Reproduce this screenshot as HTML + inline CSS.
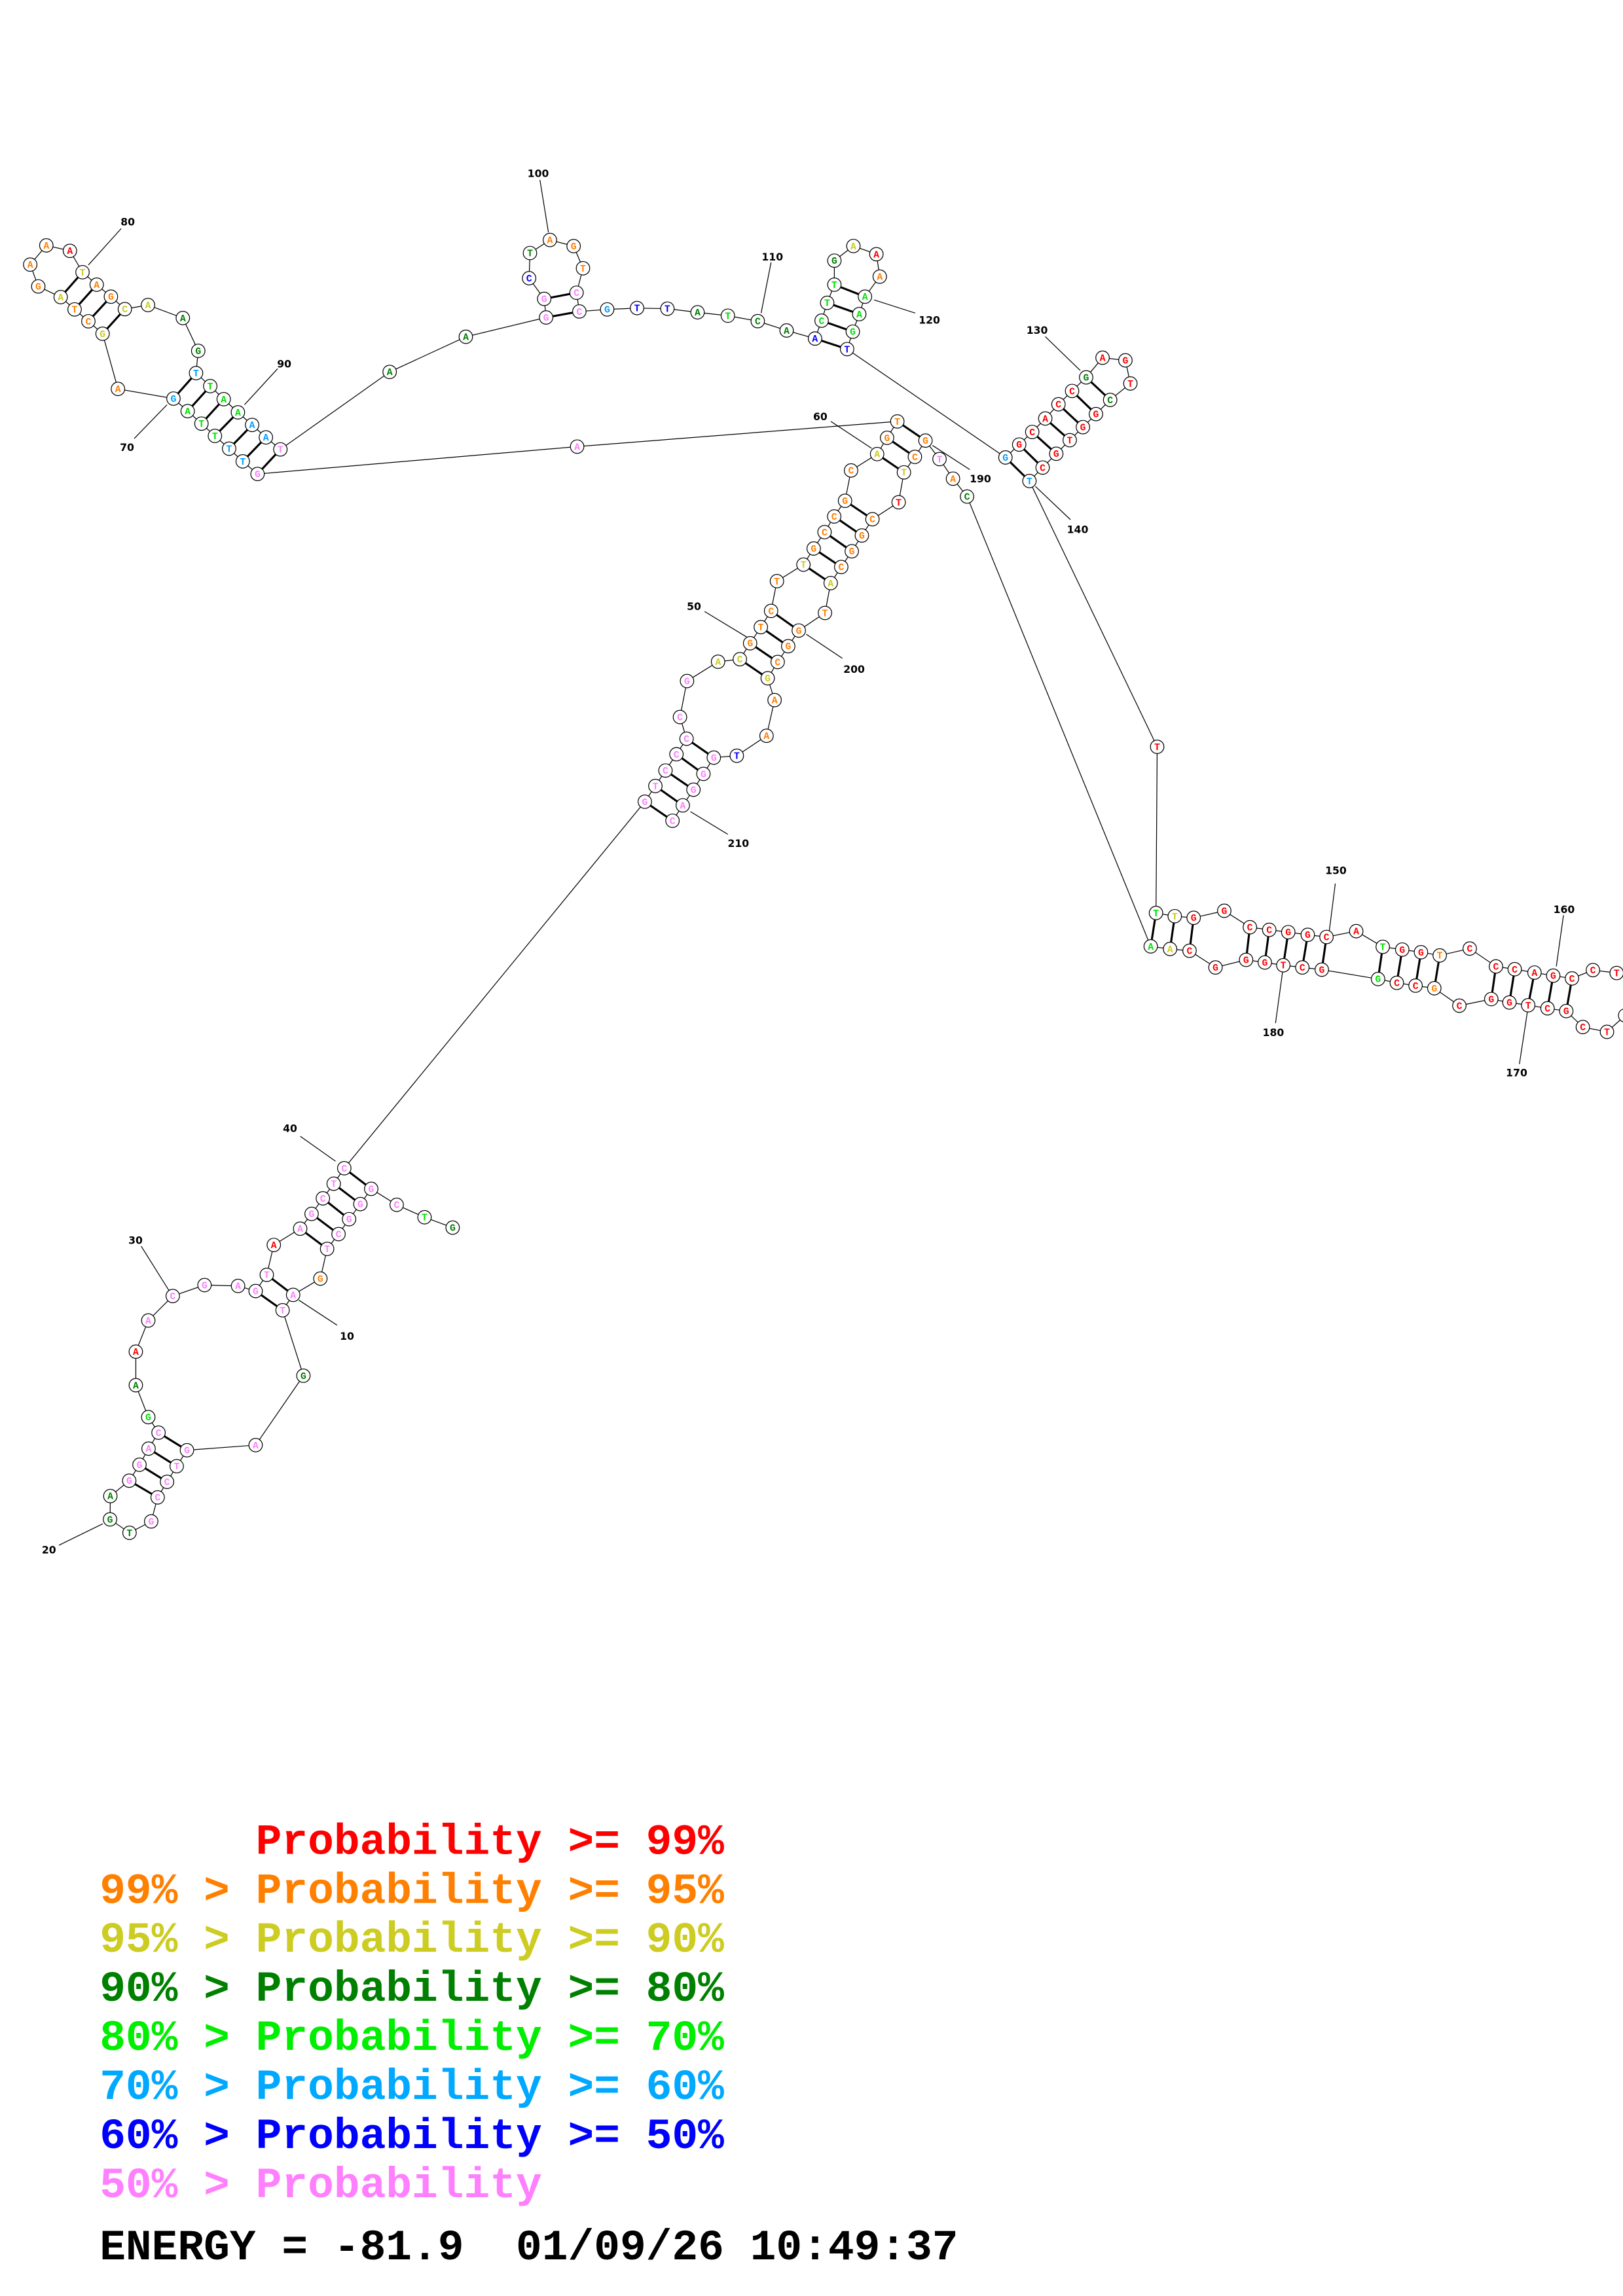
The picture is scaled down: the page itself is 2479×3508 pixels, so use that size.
<!DOCTYPE html>
<html><head><meta charset="utf-8">
<style>
html,body{margin:0;padding:0;background:#fff;}
svg{display:block;}
circle{fill:#fff;stroke:#000;stroke-width:.55;}
.bb{fill:none;stroke:#000;stroke-width:.55;}
.pr{stroke:#000;stroke-width:1.4;}
.ln{stroke:#000;stroke-width:.55;}
text.n{font-family:"Liberation Mono",monospace;font-weight:bold;font-size:6.6px;text-anchor:middle;}
text.lb{font-family:"DejaVu Sans","Liberation Sans",sans-serif;font-weight:bold;font-size:7px;text-anchor:middle;fill:#000;}
text.lg{font-family:"Liberation Mono",monospace;font-weight:bold;font-size:29.6px;white-space:pre;}
.R{fill:#ff0000}.O{fill:#ff8000}.Y{fill:#cccc22}.D{fill:#008000}.L{fill:#00e000}.C{fill:#00a0ff}.B{fill:#0000ff}.P{fill:#ff80ff}
</style></head>
<body>
<svg width="2479" height="3508" viewBox="0 0 1108 1568" xmlns="http://www.w3.org/2000/svg">
<rect width="1108" height="1568" fill="#fff"/>
<polyline class="bb" points="309,838.4 289.8,831.3 270.8,822.8 253.4,811.9 246.0,822.3 238.3,832.6 231.1,842.8 223.3,852.9 218.7,873.2 200.1,884.3 192.9,894.8 207.1,939.5 174.5,986.9 127.6,990.4 120.6,1001.3 114.0,1012.0 107.6,1022.6 103.2,1039.0 88.4,1046.8 75.1,1037.6 75.3,1021.7 88.2,1011.2 95.2,1000.3 101.4,989.3 108.2,978.4 101.2,967.8 92.7,946.0 92.7,923.1 101.2,901.8 117.9,885.1 139.6,877.6 162.5,878.2 174.5,881.7 182.1,870.6 186.9,850.2 204.9,839.1 212.7,829.0 220.4,818.4 227.8,808.4 235.0,797.8 440.2,547.5 447.4,536.8 454.3,526.2 461.8,515.1 468.7,504.5 464.2,489.7 469.0,465.1 490.2,451.9 505.1,450.2 512.1,439.3 519.4,428.3 526.4,417.2 530.4,396.9 548.5,385.6 555.5,374.6 562.9,363.4 569.5,352.7 576.9,342.0 581.0,321.3 598.8,310.1 605.6,299.0 612.6,287.8 394,305 175.8,323.7 165.7,315.1 156.4,306.4 146.7,297.7 137.5,289.3 128.1,280.8 118.4,272.2 80.5,265.6 70.0,227.9 60.3,219.4 50.9,211.3 41.4,202.9 26.1,195.6 20.6,180.7 31.6,167.6 47.7,171.3 56.3,185.9 66.0,194.4 75.7,202.6 85.2,211.1 101.0,208.3 124.8,217.2 135.3,239.6 133.8,254.8 143.5,263.7 152.7,272.6 162.4,281.6 172.1,290.2 181.5,298.7 191.4,306.9 266,254 318,230 372.8,216.8 371.5,204.1 361.2,190.0 361.8,172.8 375.4,163.9 391.6,168.1 398.0,183.2 393.6,199.9 395.5,212.7 414.5,211.3 434.9,210.4 455.6,210.8 476.2,213.3 496.9,215.6 517.3,219.3 537.0,225.7 556.4,231.2 560.9,219.0 564.7,206.8 569.6,194.4 569.6,178.0 582.6,168.0 598.3,173.6 600.6,188.9 590.5,202.6 586.6,214.5 582.2,226.5 578.3,238.4 686.4,312.4 695.8,303.6 704.7,295.0 713.6,285.8 722.6,276.1 731.9,267.0 741.5,257.7 752.7,244.3 768.3,246.1 771.7,261.9 757.9,273.1 748.2,282.8 739.3,291.7 730.3,300.6 721.1,309.9 711.8,319.3 702.8,328.5 790,510 789.2,623.5 802.0,625.7 814.9,626.8 835.8,622.0 853.3,633.2 866.5,635.0 879.5,636.6 892.8,638.4 905.6,639.9 925.9,635.9 944.0,646.6 957.3,648.5 970.1,650.3 982.9,652.5 1003.4,647.8 1021.3,660.0 1034.1,661.9 1047.6,664.2 1060.4,666.3 1073.2,668.2 1087.5,662.5 1103.7,664.5 1118,672 1116,688 1109.5,693.5 1097.1,704.7 1080.6,701.4 1069.3,690.5 1056.5,688.6 1043.3,686.5 1030.5,684.6 1018.1,682.3 996.3,686.8 979.2,674.9 966.4,673.1 953.6,671.2 940.8,668.6 902.4,662.2 889.1,660.7 876.1,659.2 863.5,657.3 850.7,655.5 829.8,660.7 812.1,649.3 798.8,648.1 785.6,646.3 660.2,339.1 650.6,326.9 641.4,313.5 631.8,300.9 624.6,312.0 617.1,322.6 613.5,343.0 595.6,354.6 588.4,365.7 581.5,376.5 574.3,387.2 567.1,398.2 563.2,418.6 545.3,430.6 538.1,441.3 530.9,452.1 524.1,463.2 528.8,478.1 523.3,502.5 503.0,516.1 487.3,517.4 480.2,528.5 473.4,539.3 466.1,550.0 459.1,560.5"/>
<g class="pr">
<line x1="235" y1="797.8" x2="253.4" y2="811.9"/><line x1="227.8" y1="808.4" x2="246" y2="822.3"/><line x1="220.4" y1="818.4" x2="238.3" y2="832.6"/><line x1="212.7" y1="829" x2="231.1" y2="842.8"/><line x1="204.9" y1="839.1" x2="223.3" y2="852.9"/>
<line x1="182.1" y1="870.6" x2="200.1" y2="884.3"/><line x1="174.5" y1="881.7" x2="192.9" y2="894.8"/>
<line x1="108.2" y1="978.4" x2="127.6" y2="990.4"/><line x1="101.4" y1="989.3" x2="120.6" y2="1001.3"/><line x1="95.2" y1="1000.3" x2="114" y2="1012"/><line x1="88.2" y1="1011.2" x2="107.6" y2="1022.6"/>
<line x1="612.6" y1="287.8" x2="631.8" y2="300.9"/><line x1="605.6" y1="299" x2="624.6" y2="312"/><line x1="598.8" y1="310.1" x2="617.1" y2="322.6"/>
<line x1="576.9" y1="342" x2="595.6" y2="354.6"/><line x1="569.5" y1="352.7" x2="588.4" y2="365.7"/><line x1="562.9" y1="363.4" x2="581.5" y2="376.5"/><line x1="555.5" y1="374.6" x2="574.3" y2="387.2"/><line x1="548.5" y1="385.6" x2="567.1" y2="398.2"/>
<line x1="526.4" y1="417.2" x2="545.3" y2="430.6"/><line x1="519.4" y1="428.3" x2="538.1" y2="441.3"/><line x1="512.1" y1="439.3" x2="530.9" y2="452.1"/><line x1="505.1" y1="450.2" x2="524.1" y2="463.2"/>
<line x1="468.7" y1="504.5" x2="487.3" y2="517.4"/><line x1="461.8" y1="515.1" x2="480.2" y2="528.5"/><line x1="454.3" y1="526.2" x2="473.4" y2="539.3"/><line x1="447.4" y1="536.8" x2="466.1" y2="550"/><line x1="440.2" y1="547.5" x2="459.1" y2="560.5"/>
<line x1="118.4" y1="272.2" x2="133.8" y2="254.8"/><line x1="128.1" y1="280.8" x2="143.5" y2="263.7"/><line x1="137.5" y1="289.3" x2="152.7" y2="272.6"/><line x1="146.7" y1="297.7" x2="162.4" y2="281.6"/><line x1="156.4" y1="306.4" x2="172.1" y2="290.2"/><line x1="165.7" y1="315.1" x2="181.5" y2="298.7"/><line x1="175.8" y1="323.7" x2="191.4" y2="306.9"/>
<line x1="56.3" y1="185.9" x2="41.4" y2="202.9"/><line x1="66" y1="194.4" x2="50.9" y2="211.3"/><line x1="75.7" y1="202.6" x2="60.3" y2="219.4"/><line x1="85.2" y1="211.1" x2="70" y2="227.9"/>
<line x1="372.8" y1="216.8" x2="395.5" y2="212.7"/><line x1="371.5" y1="204.1" x2="393.6" y2="199.9"/>
<line x1="556.4" y1="231.2" x2="578.3" y2="238.4"/><line x1="560.9" y1="219" x2="582.2" y2="226.5"/><line x1="564.7" y1="206.8" x2="586.6" y2="214.5"/><line x1="569.6" y1="194.4" x2="590.5" y2="202.6"/>
<line x1="686.4" y1="312.4" x2="702.8" y2="328.5"/><line x1="695.8" y1="303.6" x2="711.8" y2="319.3"/><line x1="704.7" y1="295" x2="721.1" y2="309.9"/><line x1="713.6" y1="285.8" x2="730.3" y2="300.6"/><line x1="722.6" y1="276.1" x2="739.3" y2="291.7"/><line x1="731.9" y1="267" x2="748.2" y2="282.8"/><line x1="741.5" y1="257.7" x2="757.9" y2="273.1"/>
<line x1="789.2" y1="623.5" x2="785.6" y2="646.3"/><line x1="802" y1="625.7" x2="798.8" y2="648.1"/><line x1="814.9" y1="626.8" x2="812.1" y2="649.3"/>
<line x1="853.3" y1="633.2" x2="850.7" y2="655.5"/><line x1="866.5" y1="635" x2="863.5" y2="657.3"/><line x1="879.5" y1="636.6" x2="876.1" y2="659.2"/><line x1="892.8" y1="638.4" x2="889.1" y2="660.7"/><line x1="905.6" y1="639.9" x2="902.4" y2="662.2"/>
<line x1="944" y1="646.6" x2="940.8" y2="668.6"/><line x1="957.3" y1="648.5" x2="953.6" y2="671.2"/><line x1="970.1" y1="650.3" x2="966.4" y2="673.1"/><line x1="982.9" y1="652.5" x2="979.2" y2="674.9"/>
<line x1="1021.3" y1="660" x2="1018.1" y2="682.3"/><line x1="1034.1" y1="661.9" x2="1030.5" y2="684.6"/><line x1="1047.6" y1="664.2" x2="1043.3" y2="686.5"/><line x1="1060.4" y1="666.3" x2="1056.5" y2="688.6"/><line x1="1073.2" y1="668.2" x2="1069.3" y2="690.5"/>
</g>
<g class="ln">
<line x1="205" y1="776" x2="229" y2="793"/><line x1="96.4" y1="851.1" x2="115.8" y2="882.1"/><line x1="204" y1="887.9" x2="230.1" y2="905"/><line x1="40.2" y1="1055.3" x2="70.2" y2="1040.6"/>
<line x1="567.2" y1="287.8" x2="595.1" y2="306.2"/><line x1="636.6" y1="304.2" x2="662.1" y2="320.7"/><line x1="481" y1="417.6" x2="509.7" y2="435"/><line x1="550.4" y1="433.1" x2="575.1" y2="449.6"/><line x1="471.4" y1="554.3" x2="496.9" y2="569.8"/>
<line x1="82.7" y1="156.1" x2="60.3" y2="181"/><line x1="189.5" y1="251.8" x2="166.9" y2="276.4"/><line x1="91.6" y1="299.5" x2="114" y2="276.4"/>
<line x1="368.6" y1="122.9" x2="374.4" y2="158.7"/><line x1="526.4" y1="179.2" x2="519.6" y2="213.8"/><line x1="624.8" y1="213.8" x2="596.7" y2="204.8"/>
<line x1="713.6" y1="229.9" x2="737.5" y2="253"/><line x1="730.8" y1="354.9" x2="706.9" y2="332.2"/>
<line x1="870.8" y1="698.7" x2="875.7" y2="663"/><line x1="1037.3" y1="726.7" x2="1042.7" y2="691.3"/><line x1="1067.4" y1="625" x2="1062.5" y2="660"/><line x1="907.3" y1="637.4" x2="911.6" y2="603.4"/>
</g>
<g>
<text class="lb" x="198" y="773">40</text><text class="lb" x="92.5" y="849.5">30</text><text class="lb" x="236.9" y="915">10</text><text class="lb" x="33.4" y="1061">20</text>
<text class="lb" x="560" y="287">60</text><text class="lb" x="669.3" y="329.5">190</text><text class="lb" x="473.8" y="416.5">50</text><text class="lb" x="583.1" y="459.5">200</text><text class="lb" x="504.1" y="578.5">210</text>
<text class="lb" x="87.2" y="154">80</text><text class="lb" x="194" y="251">90</text><text class="lb" x="86.7" y="308">70</text>
<text class="lb" x="367.4" y="121">100</text><text class="lb" x="527.3" y="178">110</text><text class="lb" x="634.5" y="221">120</text>
<text class="lb" x="708" y="228">130</text><text class="lb" x="735.7" y="364">140</text>
<text class="lb" x="912" y="597">150</text><text class="lb" x="1067.8" y="623.5">160</text><text class="lb" x="1035.4" y="735">170</text><text class="lb" x="869.3" y="707.5">180</text>
</g>
<g id="nodes">
<!-- bottom structure -->
<circle cx="309" cy="838.4" r="4.6"/><text class="n D" x="309" y="840.6">G</text>
<circle cx="289.8" cy="831.3" r="4.6"/><text class="n L" x="289.8" y="833.5">T</text>
<circle cx="270.8" cy="822.8" r="4.6"/><text class="n P" x="270.8" y="825">C</text>
<circle cx="253.4" cy="811.9" r="4.6"/><text class="n P" x="253.4" y="814.1">G</text>
<circle cx="246" cy="822.3" r="4.6"/><text class="n P" x="246" y="824.5">G</text>
<circle cx="238.3" cy="832.6" r="4.6"/><text class="n P" x="238.3" y="834.8">G</text>
<circle cx="231.1" cy="842.8" r="4.6"/><text class="n P" x="231.1" y="845">C</text>
<circle cx="223.3" cy="852.9" r="4.6"/><text class="n P" x="223.3" y="855.1">T</text>
<circle cx="218.7" cy="873.2" r="4.6"/><text class="n O" x="218.7" y="875.4">G</text>
<circle cx="200.1" cy="884.3" r="4.6"/><text class="n P" x="200.1" y="886.5">A</text>
<circle cx="192.9" cy="894.8" r="4.6"/><text class="n P" x="192.9" y="897">T</text>
<circle cx="207.1" cy="939.5" r="4.6"/><text class="n D" x="207.1" y="941.7">G</text>
<circle cx="174.5" cy="986.9" r="4.6"/><text class="n P" x="174.5" y="989.1">A</text>
<circle cx="127.6" cy="990.4" r="4.6"/><text class="n P" x="127.6" y="992.6">G</text>
<circle cx="120.6" cy="1001.3" r="4.6"/><text class="n P" x="120.6" y="1003.5">T</text>
<circle cx="114" cy="1012" r="4.6"/><text class="n P" x="114" y="1014.2">C</text>
<circle cx="107.6" cy="1022.6" r="4.6"/><text class="n P" x="107.6" y="1024.8">C</text>
<circle cx="103.2" cy="1039" r="4.6"/><text class="n P" x="103.2" y="1041.2">G</text>
<circle cx="88.4" cy="1046.8" r="4.6"/><text class="n D" x="88.4" y="1049">T</text>
<circle cx="75.1" cy="1037.6" r="4.6"/><text class="n D" x="75.1" y="1039.8">G</text>
<circle cx="75.3" cy="1021.7" r="4.6"/><text class="n D" x="75.3" y="1023.9">A</text>
<circle cx="88.2" cy="1011.2" r="4.6"/><text class="n P" x="88.2" y="1013.4">G</text>
<circle cx="95.2" cy="1000.3" r="4.6"/><text class="n P" x="95.2" y="1002.5">G</text>
<circle cx="101.4" cy="989.3" r="4.6"/><text class="n P" x="101.4" y="991.5">A</text>
<circle cx="108.2" cy="978.4" r="4.6"/><text class="n P" x="108.2" y="980.6">C</text>
<circle cx="101.2" cy="967.8" r="4.6"/><text class="n L" x="101.2" y="970">G</text>
<circle cx="92.7" cy="946" r="4.6"/><text class="n D" x="92.7" y="948.2">A</text>
<circle cx="92.7" cy="923.1" r="4.6"/><text class="n R" x="92.7" y="925.3">A</text>
<circle cx="101.2" cy="901.8" r="4.6"/><text class="n P" x="101.2" y="904">A</text>
<circle cx="117.9" cy="885.1" r="4.6"/><text class="n P" x="117.9" y="887.3">C</text>
<circle cx="139.6" cy="877.6" r="4.6"/><text class="n P" x="139.6" y="879.8">G</text>
<circle cx="162.5" cy="878.2" r="4.6"/><text class="n P" x="162.5" y="880.4">A</text>
<circle cx="174.5" cy="881.7" r="4.6"/><text class="n P" x="174.5" y="883.9">G</text>
<circle cx="182.1" cy="870.6" r="4.6"/><text class="n P" x="182.1" y="872.8">T</text>
<circle cx="186.9" cy="850.2" r="4.6"/><text class="n R" x="186.9" y="852.4">A</text>
<circle cx="204.9" cy="839.1" r="4.6"/><text class="n P" x="204.9" y="841.3">A</text>
<circle cx="212.7" cy="829" r="4.6"/><text class="n P" x="212.7" y="831.2">G</text>
<circle cx="220.4" cy="818.4" r="4.6"/><text class="n P" x="220.4" y="820.6">C</text>
<circle cx="227.8" cy="808.4" r="4.6"/><text class="n P" x="227.8" y="810.6">T</text>
<circle cx="235" cy="797.8" r="4.6"/><text class="n P" x="235" y="800">C</text>
<!-- main stem left -->
<circle cx="440.2" cy="547.5" r="4.6"/><text class="n P" x="440.2" y="549.7">G</text>
<circle cx="447.4" cy="536.8" r="4.6"/><text class="n P" x="447.4" y="539">T</text>
<circle cx="454.3" cy="526.2" r="4.6"/><text class="n P" x="454.3" y="528.4">C</text>
<circle cx="461.8" cy="515.1" r="4.6"/><text class="n P" x="461.8" y="517.3">C</text>
<circle cx="468.7" cy="504.5" r="4.6"/><text class="n P" x="468.7" y="506.7">C</text>
<circle cx="464.2" cy="489.7" r="4.6"/><text class="n P" x="464.2" y="491.9">C</text>
<circle cx="469" cy="465.1" r="4.6"/><text class="n P" x="469" y="467.3">G</text>
<circle cx="490.2" cy="451.9" r="4.6"/><text class="n Y" x="490.2" y="454.1">A</text>
<circle cx="505.1" cy="450.2" r="4.6"/><text class="n Y" x="505.1" y="452.4">C</text>
<circle cx="512.1" cy="439.3" r="4.6"/><text class="n O" x="512.1" y="441.5">G</text>
<circle cx="519.4" cy="428.3" r="4.6"/><text class="n O" x="519.4" y="430.5">T</text>
<circle cx="526.4" cy="417.2" r="4.6"/><text class="n O" x="526.4" y="419.4">C</text>
<circle cx="530.4" cy="396.9" r="4.6"/><text class="n O" x="530.4" y="399.1">T</text>
<circle cx="548.5" cy="385.6" r="4.6"/><text class="n Y" x="548.5" y="387.8">T</text>
<circle cx="555.5" cy="374.6" r="4.6"/><text class="n O" x="555.5" y="376.8">G</text>
<circle cx="562.9" cy="363.4" r="4.6"/><text class="n O" x="562.9" y="365.6">C</text>
<circle cx="569.5" cy="352.7" r="4.6"/><text class="n O" x="569.5" y="354.9">C</text>
<circle cx="576.9" cy="342" r="4.6"/><text class="n O" x="576.9" y="344.2">G</text>
<circle cx="581" cy="321.3" r="4.6"/><text class="n O" x="581" y="323.5">C</text>
<circle cx="598.8" cy="310.1" r="4.6"/><text class="n Y" x="598.8" y="312.3">A</text>
<circle cx="605.6" cy="299" r="4.6"/><text class="n O" x="605.6" y="301.2">G</text>
<circle cx="612.6" cy="287.8" r="4.6"/><text class="n O" x="612.6" y="290">T</text>
<circle cx="394" cy="305" r="4.6"/><text class="n P" x="394" y="307.2">A</text>
<!-- top-left -->
<circle cx="175.8" cy="323.7" r="4.6"/><text class="n P" x="175.8" y="325.9">G</text>
<circle cx="165.7" cy="315.1" r="4.6"/><text class="n C" x="165.7" y="317.3">T</text>
<circle cx="156.4" cy="306.4" r="4.6"/><text class="n C" x="156.4" y="308.6">T</text>
<circle cx="146.7" cy="297.7" r="4.6"/><text class="n L" x="146.7" y="299.9">T</text>
<circle cx="137.5" cy="289.3" r="4.6"/><text class="n L" x="137.5" y="291.5">T</text>
<circle cx="128.1" cy="280.8" r="4.6"/><text class="n L" x="128.1" y="283">A</text>
<circle cx="118.4" cy="272.2" r="4.6"/><text class="n C" x="118.4" y="274.4">G</text>
<circle cx="80.5" cy="265.6" r="4.6"/><text class="n O" x="80.5" y="267.8">A</text>
<circle cx="70" cy="227.9" r="4.6"/><text class="n Y" x="70" y="230.1">G</text>
<circle cx="60.3" cy="219.4" r="4.6"/><text class="n O" x="60.3" y="221.6">C</text>
<circle cx="50.9" cy="211.3" r="4.6"/><text class="n O" x="50.9" y="213.5">T</text>
<circle cx="41.4" cy="202.9" r="4.6"/><text class="n Y" x="41.4" y="205.1">A</text>
<circle cx="26.1" cy="195.6" r="4.6"/><text class="n O" x="26.1" y="197.8">G</text>
<circle cx="20.6" cy="180.7" r="4.6"/><text class="n O" x="20.6" y="182.9">A</text>
<circle cx="31.6" cy="167.6" r="4.6"/><text class="n O" x="31.6" y="169.8">A</text>
<circle cx="47.7" cy="171.3" r="4.6"/><text class="n R" x="47.7" y="173.5">A</text>
<circle cx="56.3" cy="185.9" r="4.6"/><text class="n Y" x="56.3" y="188.1">T</text>
<circle cx="66" cy="194.4" r="4.6"/><text class="n O" x="66" y="196.6">A</text>
<circle cx="75.7" cy="202.6" r="4.6"/><text class="n O" x="75.7" y="204.8">G</text>
<circle cx="85.2" cy="211.1" r="4.6"/><text class="n Y" x="85.2" y="213.3">C</text>
<circle cx="101" cy="208.3" r="4.6"/><text class="n Y" x="101" y="210.5">A</text>
<circle cx="124.8" cy="217.2" r="4.6"/><text class="n D" x="124.8" y="219.4">A</text>
<circle cx="135.3" cy="239.6" r="4.6"/><text class="n D" x="135.3" y="241.8">G</text>
<circle cx="133.8" cy="254.8" r="4.6"/><text class="n C" x="133.8" y="257">T</text>
<circle cx="143.5" cy="263.7" r="4.6"/><text class="n L" x="143.5" y="265.9">T</text>
<circle cx="152.7" cy="272.6" r="4.6"/><text class="n L" x="152.7" y="274.8">A</text>
<circle cx="162.4" cy="281.6" r="4.6"/><text class="n L" x="162.4" y="283.8">A</text>
<circle cx="172.1" cy="290.2" r="4.6"/><text class="n C" x="172.1" y="292.4">A</text>
<circle cx="181.5" cy="298.7" r="4.6"/><text class="n C" x="181.5" y="300.9">A</text>
<circle cx="191.4" cy="306.9" r="4.6"/><text class="n P" x="191.4" y="309.1">T</text>
<circle cx="266" cy="254" r="4.6"/><text class="n D" x="266" y="256.2">A</text>
<circle cx="318" cy="230" r="4.6"/><text class="n D" x="318" y="232.2">A</text>
<!-- top middle -->
<circle cx="372.8" cy="216.8" r="4.6"/><text class="n P" x="372.8" y="219">G</text>
<circle cx="371.5" cy="204.1" r="4.6"/><text class="n P" x="371.5" y="206.3">G</text>
<circle cx="361.2" cy="190" r="4.6"/><text class="n B" x="361.2" y="192.2">C</text>
<circle cx="361.8" cy="172.8" r="4.6"/><text class="n D" x="361.8" y="175">T</text>
<circle cx="375.4" cy="163.9" r="4.6"/><text class="n O" x="375.4" y="166.1">A</text>
<circle cx="391.6" cy="168.1" r="4.6"/><text class="n O" x="391.6" y="170.3">G</text>
<circle cx="398" cy="183.2" r="4.6"/><text class="n O" x="398" y="185.4">T</text>
<circle cx="393.6" cy="199.9" r="4.6"/><text class="n P" x="393.6" y="202.1">C</text>
<circle cx="395.5" cy="212.7" r="4.6"/><text class="n P" x="395.5" y="214.9">C</text>
<circle cx="414.5" cy="211.3" r="4.6"/><text class="n C" x="414.5" y="213.5">G</text>
<circle cx="434.9" cy="210.4" r="4.6"/><text class="n B" x="434.9" y="212.6">T</text>
<circle cx="455.6" cy="210.8" r="4.6"/><text class="n B" x="455.6" y="213">T</text>
<circle cx="476.2" cy="213.3" r="4.6"/><text class="n D" x="476.2" y="215.5">A</text>
<circle cx="496.9" cy="215.6" r="4.6"/><text class="n L" x="496.9" y="217.8">T</text>
<circle cx="517.3" cy="219.3" r="4.6"/><text class="n D" x="517.3" y="221.5">C</text>
<circle cx="537" cy="225.7" r="4.6"/><text class="n D" x="537" y="227.9">A</text>
<circle cx="556.4" cy="231.2" r="4.6"/><text class="n B" x="556.4" y="233.4">A</text>
<circle cx="560.9" cy="219" r="4.6"/><text class="n L" x="560.9" y="221.2">C</text>
<circle cx="564.7" cy="206.8" r="4.6"/><text class="n L" x="564.7" y="209">T</text>
<circle cx="569.6" cy="194.4" r="4.6"/><text class="n L" x="569.6" y="196.6">T</text>
<circle cx="569.6" cy="178" r="4.6"/><text class="n D" x="569.6" y="180.2">G</text>
<circle cx="582.6" cy="168" r="4.6"/><text class="n Y" x="582.6" y="170.2">A</text>
<circle cx="598.3" cy="173.6" r="4.6"/><text class="n R" x="598.3" y="175.8">A</text>
<circle cx="600.6" cy="188.9" r="4.6"/><text class="n O" x="600.6" y="191.1">A</text>
<circle cx="590.5" cy="202.6" r="4.6"/><text class="n L" x="590.5" y="204.8">A</text>
<circle cx="586.6" cy="214.5" r="4.6"/><text class="n L" x="586.6" y="216.7">A</text>
<circle cx="582.2" cy="226.5" r="4.6"/><text class="n L" x="582.2" y="228.7">G</text>
<circle cx="578.3" cy="238.4" r="4.6"/><text class="n B" x="578.3" y="240.6">T</text>
<!-- 130 hairpin -->
<circle cx="686.4" cy="312.4" r="4.6"/><text class="n C" x="686.4" y="314.6">G</text>
<circle cx="695.8" cy="303.6" r="4.6"/><text class="n R" x="695.8" y="305.8">G</text>
<circle cx="704.7" cy="295" r="4.6"/><text class="n R" x="704.7" y="297.2">C</text>
<circle cx="713.6" cy="285.8" r="4.6"/><text class="n R" x="713.6" y="288">A</text>
<circle cx="722.6" cy="276.1" r="4.6"/><text class="n R" x="722.6" y="278.3">C</text>
<circle cx="731.9" cy="267" r="4.6"/><text class="n R" x="731.9" y="269.2">C</text>
<circle cx="741.5" cy="257.7" r="4.6"/><text class="n D" x="741.5" y="259.9">G</text>
<circle cx="752.7" cy="244.3" r="4.6"/><text class="n R" x="752.7" y="246.5">A</text>
<circle cx="768.3" cy="246.1" r="4.6"/><text class="n R" x="768.3" y="248.3">G</text>
<circle cx="771.7" cy="261.9" r="4.6"/><text class="n R" x="771.7" y="264.1">T</text>
<circle cx="757.9" cy="273.1" r="4.6"/><text class="n D" x="757.9" y="275.3">C</text>
<circle cx="748.2" cy="282.8" r="4.6"/><text class="n R" x="748.2" y="285">G</text>
<circle cx="739.3" cy="291.7" r="4.6"/><text class="n R" x="739.3" y="293.9">G</text>
<circle cx="730.3" cy="300.6" r="4.6"/><text class="n R" x="730.3" y="302.8">T</text>
<circle cx="721.1" cy="309.9" r="4.6"/><text class="n R" x="721.1" y="312.1">G</text>
<circle cx="711.8" cy="319.3" r="4.6"/><text class="n R" x="711.8" y="321.5">C</text>
<circle cx="702.8" cy="328.5" r="4.6"/><text class="n C" x="702.8" y="330.7">T</text>
<circle cx="790" cy="510" r="4.6"/><text class="n R" x="790" y="512.2">T</text>
<!-- right long -->
<circle cx="789.2" cy="623.5" r="4.6"/><text class="n L" x="789.2" y="625.7">T</text>
<circle cx="802" cy="625.7" r="4.6"/><text class="n Y" x="802" y="627.9">T</text>
<circle cx="814.9" cy="626.8" r="4.6"/><text class="n R" x="814.9" y="629">G</text>
<circle cx="835.8" cy="622" r="4.6"/><text class="n R" x="835.8" y="624.2">G</text>
<circle cx="853.3" cy="633.2" r="4.6"/><text class="n R" x="853.3" y="635.4">C</text>
<circle cx="866.5" cy="635" r="4.6"/><text class="n R" x="866.5" y="637.2">C</text>
<circle cx="879.5" cy="636.6" r="4.6"/><text class="n R" x="879.5" y="638.8">G</text>
<circle cx="892.8" cy="638.4" r="4.6"/><text class="n R" x="892.8" y="640.6">G</text>
<circle cx="905.6" cy="639.9" r="4.6"/><text class="n R" x="905.6" y="642.1">C</text>
<circle cx="925.9" cy="635.9" r="4.6"/><text class="n R" x="925.9" y="638.1">A</text>
<circle cx="944" cy="646.6" r="4.6"/><text class="n L" x="944" y="648.8">T</text>
<circle cx="957.3" cy="648.5" r="4.6"/><text class="n R" x="957.3" y="650.7">G</text>
<circle cx="970.1" cy="650.3" r="4.6"/><text class="n R" x="970.1" y="652.5">G</text>
<circle cx="982.9" cy="652.5" r="4.6"/><text class="n O" x="982.9" y="654.7">T</text>
<circle cx="1003.4" cy="647.8" r="4.6"/><text class="n R" x="1003.4" y="650">C</text>
<circle cx="1021.3" cy="660" r="4.6"/><text class="n R" x="1021.3" y="662.2">C</text>
<circle cx="1034.1" cy="661.9" r="4.6"/><text class="n R" x="1034.1" y="664.1">C</text>
<circle cx="1047.6" cy="664.2" r="4.6"/><text class="n R" x="1047.6" y="666.4">A</text>
<circle cx="1060.4" cy="666.3" r="4.6"/><text class="n R" x="1060.4" y="668.5">G</text>
<circle cx="1073.2" cy="668.2" r="4.6"/><text class="n R" x="1073.2" y="670.4">C</text>
<circle cx="1087.5" cy="662.5" r="4.6"/><text class="n R" x="1087.5" y="664.7">C</text>
<circle cx="1103.7" cy="664.5" r="4.6"/><text class="n R" x="1103.7" y="666.7">T</text>
<circle cx="1109.5" cy="693.5" r="4.6"/>
<circle cx="1097.1" cy="704.7" r="4.6"/><text class="n R" x="1097.1" y="706.9">T</text>
<circle cx="1080.6" cy="701.4" r="4.6"/><text class="n R" x="1080.6" y="703.6">C</text>
<circle cx="1069.3" cy="690.5" r="4.6"/><text class="n R" x="1069.3" y="692.7">G</text>
<circle cx="1056.5" cy="688.6" r="4.6"/><text class="n R" x="1056.5" y="690.8">C</text>
<circle cx="1043.3" cy="686.5" r="4.6"/><text class="n R" x="1043.3" y="688.7">T</text>
<circle cx="1030.5" cy="684.6" r="4.6"/><text class="n R" x="1030.5" y="686.8">G</text>
<circle cx="1018.1" cy="682.3" r="4.6"/><text class="n R" x="1018.1" y="684.5">G</text>
<circle cx="996.3" cy="686.8" r="4.6"/><text class="n R" x="996.3" y="689">C</text>
<circle cx="979.2" cy="674.9" r="4.6"/><text class="n O" x="979.2" y="677.1">G</text>
<circle cx="966.4" cy="673.1" r="4.6"/><text class="n R" x="966.4" y="675.3">C</text>
<circle cx="953.6" cy="671.2" r="4.6"/><text class="n R" x="953.6" y="673.4">C</text>
<circle cx="940.8" cy="668.6" r="4.6"/><text class="n L" x="940.8" y="670.8">G</text>
<circle cx="902.4" cy="662.2" r="4.6"/><text class="n R" x="902.4" y="664.4">G</text>
<circle cx="889.1" cy="660.7" r="4.6"/><text class="n R" x="889.1" y="662.9">C</text>
<circle cx="876.1" cy="659.2" r="4.6"/><text class="n R" x="876.1" y="661.4">T</text>
<circle cx="863.5" cy="657.3" r="4.6"/><text class="n R" x="863.5" y="659.5">G</text>
<circle cx="850.7" cy="655.5" r="4.6"/><text class="n R" x="850.7" y="657.7">G</text>
<circle cx="829.8" cy="660.7" r="4.6"/><text class="n R" x="829.8" y="662.9">G</text>
<circle cx="812.1" cy="649.3" r="4.6"/><text class="n R" x="812.1" y="651.5">C</text>
<circle cx="798.8" cy="648.1" r="4.6"/><text class="n Y" x="798.8" y="650.3">A</text>
<circle cx="785.6" cy="646.3" r="4.6"/><text class="n L" x="785.6" y="648.5">A</text>
<!-- stem right -->
<circle cx="660.2" cy="339.1" r="4.6"/><text class="n D" x="660.2" y="341.3">C</text>
<circle cx="650.6" cy="326.9" r="4.6"/><text class="n O" x="650.6" y="329.1">A</text>
<circle cx="641.4" cy="313.5" r="4.6"/><text class="n P" x="641.4" y="315.7">T</text>
<circle cx="631.8" cy="300.9" r="4.6"/><text class="n O" x="631.8" y="303.1">G</text>
<circle cx="624.6" cy="312" r="4.6"/><text class="n O" x="624.6" y="314.2">C</text>
<circle cx="617.1" cy="322.6" r="4.6"/><text class="n Y" x="617.1" y="324.8">T</text>
<circle cx="613.5" cy="343" r="4.6"/><text class="n R" x="613.5" y="345.2">T</text>
<circle cx="595.6" cy="354.6" r="4.6"/><text class="n O" x="595.6" y="356.8">C</text>
<circle cx="588.4" cy="365.7" r="4.6"/><text class="n O" x="588.4" y="367.9">G</text>
<circle cx="581.5" cy="376.5" r="4.6"/><text class="n O" x="581.5" y="378.7">G</text>
<circle cx="574.3" cy="387.2" r="4.6"/><text class="n O" x="574.3" y="389.4">C</text>
<circle cx="567.1" cy="398.2" r="4.6"/><text class="n Y" x="567.1" y="400.4">A</text>
<circle cx="563.2" cy="418.6" r="4.6"/><text class="n O" x="563.2" y="420.8">T</text>
<circle cx="545.3" cy="430.6" r="4.6"/><text class="n O" x="545.3" y="432.8">G</text>
<circle cx="538.1" cy="441.3" r="4.6"/><text class="n O" x="538.1" y="443.5">G</text>
<circle cx="530.9" cy="452.1" r="4.6"/><text class="n O" x="530.9" y="454.3">C</text>
<circle cx="524.1" cy="463.2" r="4.6"/><text class="n Y" x="524.1" y="465.4">G</text>
<circle cx="528.8" cy="478.1" r="4.6"/><text class="n O" x="528.8" y="480.3">A</text>
<circle cx="523.3" cy="502.5" r="4.6"/><text class="n O" x="523.3" y="504.7">A</text>
<circle cx="503" cy="516.1" r="4.6"/><text class="n B" x="503" y="518.3">T</text>
<circle cx="487.3" cy="517.4" r="4.6"/><text class="n P" x="487.3" y="519.6">G</text>
<circle cx="480.2" cy="528.5" r="4.6"/><text class="n P" x="480.2" y="530.7">G</text>
<circle cx="473.4" cy="539.3" r="4.6"/><text class="n P" x="473.4" y="541.5">G</text>
<circle cx="466.1" cy="550" r="4.6"/><text class="n P" x="466.1" y="552.2">A</text>
<circle cx="459.1" cy="560.5" r="4.6"/><text class="n P" x="459.1" y="562.7">C</text>
</g>
<g>
<text class="lg" x="68" y="1266" fill="#ff0000">      Probability &gt;= 99%</text>
<text class="lg" x="68" y="1299.5" fill="#ff8000">99% &gt; Probability &gt;= 95%</text>
<text class="lg" x="68" y="1333" fill="#cccc22">95% &gt; Probability &gt;= 90%</text>
<text class="lg" x="68" y="1366.5" fill="#008000">90% &gt; Probability &gt;= 80%</text>
<text class="lg" x="68" y="1400" fill="#00ee00">80% &gt; Probability &gt;= 70%</text>
<text class="lg" x="68" y="1433.5" fill="#00a8ff">70% &gt; Probability &gt;= 60%</text>
<text class="lg" x="68" y="1467" fill="#0000ff">60% &gt; Probability &gt;= 50%</text>
<text class="lg" x="68" y="1500.5" fill="#ff80ff">50% &gt; Probability</text>
<text class="lg" x="68" y="1543" fill="#000">ENERGY = -81.9  01/09/26 10:49:37</text>
</g>
</svg>
</body></html>
